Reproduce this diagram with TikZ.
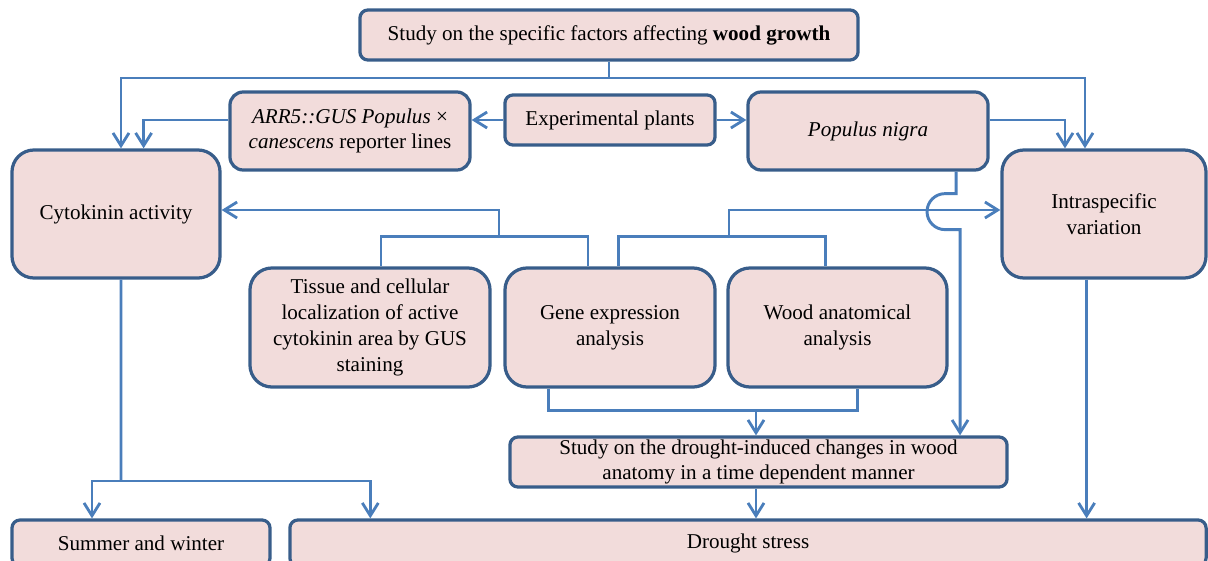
\documentclass[tikz,border=0pt]{standalone}
\usepackage{fontspec}
\setmainfont{Liberation Serif}
\usepackage{tikz}
\usetikzlibrary{arrows.meta,positioning}

\definecolor{boxfill}{RGB}{242,220,219}
\definecolor{boxline}{RGB}{56,93,138}
\definecolor{linkblue}{RGB}{74,126,187}

\begin{document}
\begin{tikzpicture}
[x=0.025cm,y=-0.025cm,>={Straight Barb[length=0.32cm,width=0.4cm,line width=2pt]},
  font=\fontsize{15}{18.3}\selectfont,
  main node/.style={draw=boxline,fill=boxfill,line width=2.3pt,align=center,inner sep=0pt},
  flat node/.style={main node,rounded corners=0.2cm,minimum height=1.25cm},
  mid node/.style={main node,rounded corners=0.33cm,minimum width=6cm,minimum height=1.95cm},
  big node/.style={main node,rounded corners=0.55cm},
  link/.style={draw=linkblue,line width=2.1pt}]

  \useasboundingbox (0,0) rectangle (1208,560);

  \node [flat node,minimum width=12.45cm] (factors) at 	(609,35) 	{Study on the specific factors affecting \textbf{wood growth}};
  \node [mid node] (reporter) at 			(350,131) 	{\textit{ARR5::GUS Populus} ×\\\textit{canescens} reporter lines};
  \node [flat node,minimum width=5.25cm] (plants) at 	(610,120) 	{Experimental plants};
  \node [mid node] (nigra) at 				(868,131) 	{\textit{Populus nigra}};
  \node [big node,minimum width=5.2cm,minimum height=3.2cm] (cytokinin) at 	(116,214) 	{Cytokinin activity};
  \node [big node,minimum width=5.1cm,minimum height=3.2cm] (intra) at 		(1104,214) 	{Intraspecific\\variation};
  \node [big node,minimum width=6cm,minimum height=2.975cm] (tissue) at 		(370,327.5) 	{Tissue and cellular\\localization of active\\cytokinin area by GUS\\staining};
  \node [big node,minimum width=5.25cm,minimum height=2.975cm] (gene) at 	(610,327.5) 	{Gene expression\\analysis};
  \node [big node,minimum width=5.475cm,minimum height=2.975cm] (anatomy) at 	(837.5,327.5) 	{Wood anatomical\\analysis};
  \node [flat node,minimum width=12.425cm] (timecourse) at 	(758.5,462) 	{Study on the drought-induced changes in wood\\anatomy in a time dependent manner};
  \node [flat node,minimum width=6.45cm,minimum height=1.15cm] (season) at 	(141,543) 	{Summer and winter};
  \node [flat node,minimum width=22.9cm,minimum height=1.15cm] (drought) at 	(748,543) 	{Drought stress};

  % junctions
  \coordinate (topsplit) at (609,78);
  \coordinate (leftjoin) at (499,238);
  \coordinate (rightjoin) at (729,238);
  \coordinate (lowjoin) at (756,409);
  \coordinate (cytosplit) at (121,481);

  \draw [link] (factors.south) -- (topsplit);
  \draw [link,->] (topsplit) -| ([xshift=0.125cm]cytokinin.north);
  \draw [link,->] (topsplit) -| ([xshift=-0.475cm]intra.north);

  \draw [link,->] (plants.west) -- (plants.west -| reporter.east);
  \draw [link,->] (plants.east) -- (plants.east -| nigra.west);
  \draw [link,->] ([yshift=0.275cm]reporter.west) -| ([xshift=0.69cm]cytokinin.north);
  \draw [link,->] ([yshift=0.275cm]nigra.east) -| ([xshift=-0.975cm]intra.north);

  \draw [link] ([xshift=0.275cm]tissue.north) -- ++(0,-30) -| ([xshift=-0.55cm]gene.north);
  \draw [link,->] (leftjoin) |- ([yshift=0.1cm]cytokinin.east);
  \draw [link] ([xshift=0.22cm]gene.north) -- ++(0,-30) -| ([xshift=-0.29cm]anatomy.north);
  \draw [link,->] (rightjoin) |- ([yshift=0.1cm]intra.west);

  % line from Populus nigra hopping over the arrow
  \draw [link,->] ([xshift=2.2cm]nigra.south) -- ++(0,22) -- ++(-11,0)
     arc [start angle=90,end angle=270,radius=0.45cm] -- ++(15,0)
     -- ([xshift=5.0375cm]timecourse.north);

  \draw [link] ([xshift=-1.54cm]gene.south) -- ++(0,22) -| ([xshift=0.49cm]anatomy.south);
  \draw [link,->] (lowjoin) -- (lowjoin |- timecourse.north);
  \draw [link,->] (lowjoin |- timecourse.south) -- (lowjoin |- drought.north);
  \draw [link,->] ([xshift=-0.435cm]intra.south) -- ([xshift=-0.435cm]intra.south |- drought.north);

  \draw [link] ([xshift=0.125cm]cytokinin.south) -- (cytosplit);
  \draw [link,->] (cytosplit) -| ([xshift=-1.225cm]season.north);
  \draw [link,->] (cytosplit) -| ([xshift=-9.44cm]drought.north);

\end{tikzpicture}
\end{document}
